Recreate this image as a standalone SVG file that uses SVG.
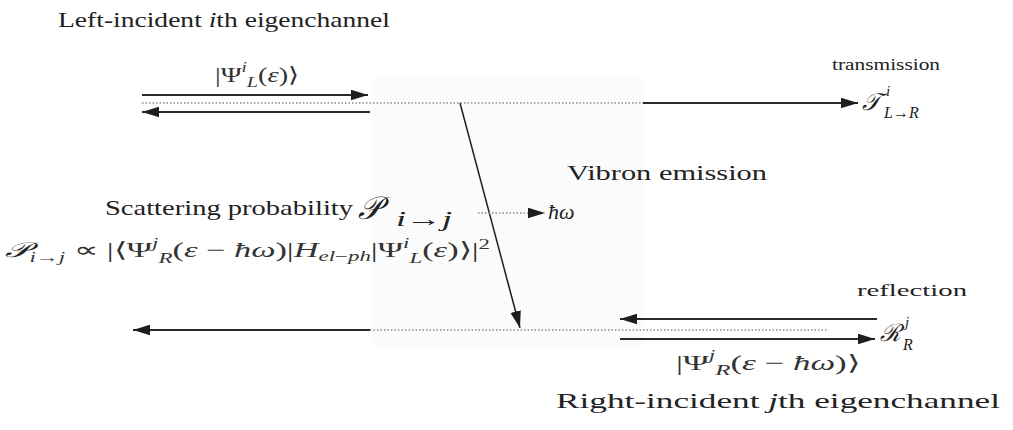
<svg xmlns="http://www.w3.org/2000/svg" width="1013" height="430" viewBox="0 0 1013 430">
<style>
.t { fill: #222222; }
.m { fill: #333333; }
.it { font-style: italic; }
.sc { font-style: italic; fill: #222222; }
.ar { stroke: #2a2a2a; stroke-width: 2; fill: none; }
.dot { stroke: #8a8a8a; stroke-width: 1.6; stroke-dasharray: 1.5 2; fill: none; }
.thin { stroke: #1e1e1e; stroke-width: 1.5; fill: none; }
</style>
<defs>
<marker id="ahL" viewBox="0 0 16 10" refX="16" refY="5" markerWidth="17" markerHeight="11" markerUnits="userSpaceOnUse" orient="auto">
<path d="M0,0 L16,5 L0,10 z" fill="#1e1e1e"/>
</marker>
</defs>
<rect width="1013" height="430" fill="#ffffff"/>
<rect x="372" y="78" width="272" height="268" fill="#fbfbfb"/>

<g id="connectors">
<line class="ar" x1="142" y1="95" x2="368" y2="95" marker-end="url(#ahL)"/>
<line class="dot" x1="142" y1="103" x2="643" y2="103"/>
<line class="ar" x1="370" y1="112" x2="142" y2="112" marker-end="url(#ahL)"/>
<line class="ar" x1="643" y1="103" x2="858" y2="103" marker-end="url(#ahL)"/>
<line class="thin" x1="460" y1="103" x2="520" y2="328" marker-end="url(#ahL)"/>
<line class="dot" x1="478" y1="213" x2="545" y2="213" marker-end="url(#ahL)"/>
<line class="ar" x1="370" y1="330" x2="133" y2="330" marker-end="url(#ahL)"/>
<line class="dot" x1="370" y1="330" x2="828" y2="330"/>
<line class="ar" x1="877" y1="319" x2="620" y2="319" marker-end="url(#ahL)"/>
<line class="ar" x1="620" y1="339" x2="875" y2="339" marker-end="url(#ahL)"/>
</g>

<g id="left-channel" font-family="Liberation Serif">
<text class="t" font-family="Liberation Serif" x="58" y="27" font-size="22" textLength="332" lengthAdjust="spacingAndGlyphs">Left-incident <tspan class="it">i</tspan>th eigenchannel</text>
<text class="m" font-family="Liberation Serif" x="215" y="82" font-size="21" textLength="84" lengthAdjust="spacingAndGlyphs">|Ψ<tspan class="it" font-size="14" dy="-10">i</tspan><tspan class="it" font-size="15" dy="15">L</tspan><tspan dy="-5">(</tspan><tspan class="it">ε</tspan>)⟩</text>
</g>

<g id="transmission" font-family="Liberation Serif">
<text class="t" font-family="Liberation Serif" x="832" y="70" font-size="17" textLength="108" lengthAdjust="spacingAndGlyphs">transmission</text>
<text x="862" y="110" font-size="24" class="sc" font-family="DejaVu Serif">𝒯</text>
<text class="t it" font-family="Liberation Serif" x="886" y="96" font-size="15">i</text>
<text class="t" font-family="Liberation Serif" x="884" y="118" font-size="16"><tspan class="it">L</tspan>→<tspan class="it">R</tspan></text>
</g>

<g id="vibron" font-family="Liberation Serif">
<text class="t" font-family="Liberation Serif" x="567" y="180" font-size="22" textLength="200" lengthAdjust="spacingAndGlyphs">Vibron emission</text>
<text class="t it" font-family="Liberation Serif" x="548" y="219" font-size="22">ħω</text>
</g>

<g id="scattering" font-family="Liberation Serif">
<text class="t" font-family="Liberation Serif" x="105" y="215" font-size="22" textLength="248" lengthAdjust="spacingAndGlyphs">Scattering probability</text>
<text x="358" y="219" font-size="32" class="sc" font-family="DejaVu Serif">𝒫</text>
<text class="t it" font-family="Liberation Serif" x="396" y="226" font-size="22" textLength="56" lengthAdjust="spacingAndGlyphs">i<tspan font-style="normal">→</tspan>j</text>
</g>

<g id="formula" font-family="Liberation Serif">
<text class="m" font-family="Liberation Serif" x="5" y="257" font-size="21" textLength="485" lengthAdjust="spacingAndGlyphs"><tspan class="sc" font-family="DejaVu Serif">𝒫</tspan><tspan class="it" font-size="14" dy="5">i<tspan font-style="normal">→</tspan>j</tspan><tspan dy="-5"> ∝ |⟨Ψ</tspan><tspan class="it" font-size="14" dy="-9">j</tspan><tspan class="it" font-size="14" dy="15">R</tspan><tspan dy="-6">(</tspan><tspan class="it">ε</tspan> − <tspan class="it">ħω</tspan>)|<tspan class="it">H</tspan><tspan class="it" font-size="14" dy="4">el<tspan font-style="normal">−</tspan>ph</tspan><tspan dy="-4">|Ψ</tspan><tspan class="it" font-size="14" dy="-9">i</tspan><tspan class="it" font-size="14" dy="15">L</tspan><tspan dy="-6">(</tspan><tspan class="it">ε</tspan>)⟩|<tspan font-size="14" dy="-8">2</tspan></text>
</g>

<g id="reflection" font-family="Liberation Serif">
<text class="t" font-family="Liberation Serif" x="857" y="296" font-size="17" textLength="110" lengthAdjust="spacingAndGlyphs">reflection</text>
<text x="880" y="341" font-size="24" class="sc" font-family="DejaVu Serif">ℛ</text>
<text class="t it" font-family="Liberation Serif" x="905" y="327" font-size="15">j</text>
<text class="t it" font-family="Liberation Serif" x="903" y="350" font-size="16">R</text>
</g>

<g id="right-channel" font-family="Liberation Serif">
<text class="m" font-family="Liberation Serif" x="676" y="370" font-size="21" textLength="184" lengthAdjust="spacingAndGlyphs">|Ψ<tspan class="it" font-size="14" dy="-10">j</tspan><tspan class="it" font-size="15" dy="15">R</tspan><tspan dy="-5">(</tspan><tspan class="it">ε</tspan> − <tspan class="it">ħω</tspan>)⟩</text>
<text class="t" font-family="Liberation Serif" x="556" y="408" font-size="22" textLength="444" lengthAdjust="spacingAndGlyphs">Right-incident <tspan class="it">j</tspan>th eigenchannel</text>
</g>
</svg>
